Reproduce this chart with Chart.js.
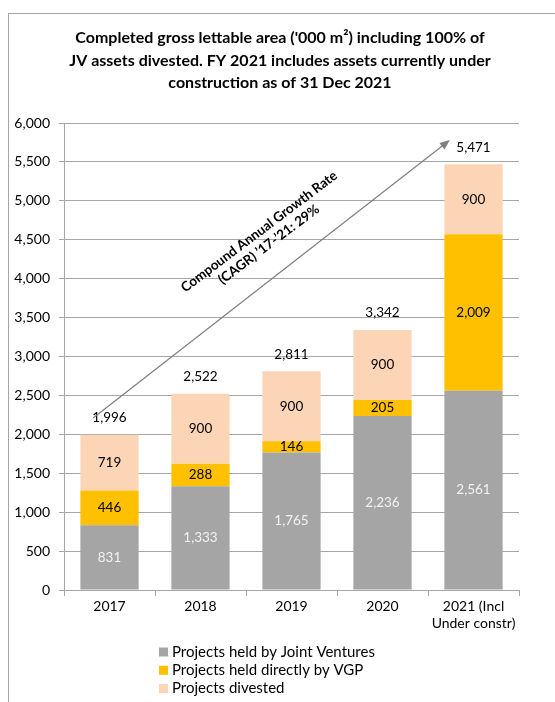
<!DOCTYPE html>
<html>
<head>
<meta charset="utf-8">
<script src="https://cdn.jsdelivr.net/npm/chart.js@4.4.1/dist/chart.umd.min.js"></script>
<style>
    html, body { margin: 0; padding: 0; background: #fff; }
    #wrap { position: relative; width: 555px; height: 702px; overflow: hidden; }
    #frame { position: absolute; left: 8px; top: 13px; width: 600px; height: 800px; border: 1.5px solid #a6a6a6; }
    #chart { position: absolute; left: 0; top: 0; }
</style>
</head>
<body>
<div id="wrap">
    <div id="frame"></div>
    <canvas id="chart" width="555" height="702"></canvas>
</div>
<script>
    const categories = ['2017', '2018', '2019', '2020', ['2021 (Incl', 'Under constr)']];
    const jointVentures = [831, 1333, 1765, 2236, 2561];
    const heldDirectly = [446, 288, 146, 205, 2009];
    const divested = [719, 900, 900, 900, 900];
    const totals = [1996, 2522, 2811, 3342, 5471];
    const titleLines = [
        "Completed gross lettable area ('000 m\u00b2) including 100% of",
        'JV assets divested. FY 2021 includes assets currently under',
        'construction as of 31 Dec 2021'
    ];
    // arrow from / to, in category index and value
    const cagrArrow = [[-0.18, 2210], [3.74, 5780]];
    const cagrText = ['Compound Annual Growth Rate', "(CAGR) \u201917-\u201921: 29%"];

    const FONT = 'Lato, "Open Sans", sans-serif';
    const fmt = v => v.toLocaleString('en-US');

    let extras = {
        id: 'extras',
        afterDatasetsDraw(chart) {
            const ctx = chart.ctx;
            const x = chart.scales.x, y = chart.scales.y;
            ctx.save();

            // segment labels
            ctx.textAlign = 'center';
            ctx.textBaseline = 'middle';
            ctx.font = '13.5px ' + FONT;
            chart.data.datasets.forEach(function (ds, di) {
                chart.getDatasetMeta(di).data.forEach(function (bar, i) {
                    ctx.fillStyle = ds.labelColor;
                    ctx.fillText(fmt(ds.data[i]), bar.x, (bar.y + bar.base) / 2);
                });
            });

            // totals
            const top = chart.getDatasetMeta(2).data;
            ctx.fillStyle = '#000';
            totals.forEach(function (t, i) {
                ctx.fillText(fmt(t), top[i].x, top[i].y - 17);
            });

            // CAGR arrow
            const x0 = x.getPixelForValue(cagrArrow[0][0]), y0 = y.getPixelForValue(cagrArrow[0][1]);
            const x1 = x.getPixelForValue(cagrArrow[1][0]), y1 = y.getPixelForValue(cagrArrow[1][1]);
            const ang = Math.atan2(y1 - y0, x1 - x0);
            ctx.strokeStyle = '#7f7f7f';
            ctx.fillStyle = '#7f7f7f';
            ctx.lineWidth = 1.2;
            ctx.beginPath();
            ctx.moveTo(x0, y0);
            ctx.lineTo(x1 - 6 * Math.cos(ang), y1 - 6 * Math.sin(ang));
            ctx.stroke();
            ctx.beginPath();
            ctx.moveTo(x1, y1);
            ctx.lineTo(x1 - 10 * Math.cos(ang) + 4 * Math.sin(ang), y1 - 10 * Math.sin(ang) - 4 * Math.cos(ang));
            ctx.lineTo(x1 - 10 * Math.cos(ang) - 4 * Math.sin(ang), y1 - 10 * Math.sin(ang) + 4 * Math.cos(ang));
            ctx.closePath();
            ctx.fill();

            ctx.translate(264, 238);
            ctx.rotate(-37 * Math.PI / 180);
            ctx.fillStyle = '#000';
            ctx.font = 'bold 13.5px ' + FONT;
            ctx.fillText(cagrText[0], 0, -8);
            ctx.fillText(cagrText[1], 0, 8);
            ctx.restore();
        },
        afterDraw(chart) {
            const ctx = chart.ctx;
            ctx.save();
            // title
            ctx.fillStyle = '#000';
            ctx.textAlign = 'center';
            ctx.textBaseline = 'middle';
            ctx.font = 'bold 16px ' + FONT;
            titleLines.forEach(function (t, i) {
                ctx.fillText(t, 280, 38 + i * 22.5);
            });
            // legend, one item per row
            ctx.textAlign = 'left';
            ctx.font = '15px ' + FONT;
            chart.data.datasets.forEach(function (ds, i) {
                const cy = 652 + i * 18.3;
                ctx.fillStyle = ds.backgroundColor;
                ctx.fillRect(159, cy - 4.5, 9, 9);
                ctx.fillStyle = '#000';
                ctx.fillText(ds.label, 172, cy);
            });
            ctx.restore();
        }
    };

    new Chart(document.getElementById('chart'), {
        type: 'bar',
        data: {
            labels: categories,
            datasets: [
                { label: 'Projects held by Joint Ventures', data: jointVentures, backgroundColor: '#a5a5a5', labelColor: '#f2f2f2' },
                { label: 'Projects held directly by VGP', data: heldDirectly, backgroundColor: '#ffc000', labelColor: '#000' },
                { label: 'Projects divested', data: divested, backgroundColor: '#fbd5b5', labelColor: '#000' }
            ]
        },
        options: {
            responsive: false,
            animation: false,
            devicePixelRatio: 1,
            layout: { padding: { top: 123, right: 36, left: 0, bottom: 0 } },
            datasets: { bar: { barPercentage: 0.64, categoryPercentage: 1 } },
            plugins: { legend: { display: false }, title: { display: false }, tooltip: { enabled: false } },
            scales: {
                x: {
                    stacked: true,
                    afterFit: s => { s.height = 112; },
                    grid: { drawOnChartArea: false, tickLength: 6, color: '#a6a6a6' },
                    border: { color: '#a6a6a6' },
                    ticks: { color: '#000', font: { family: FONT, size: 14 }, padding: 2 }
                },
                y: {
                    stacked: true,
                    min: 0,
                    max: 6000,
                    afterFit: s => { s.width = 64; },
                    grid: { color: '#a6a6a6', tickLength: 5 },
                    border: { color: '#a6a6a6' },
                    ticks: {
                        stepSize: 500,
                        color: '#000',
                        padding: 9,
                        font: { family: FONT, size: 14 },
                        callback: v => fmt(v)
                    }
                }
            }
        },
        plugins: [extras]
    });
</script>
</body>
</html>
